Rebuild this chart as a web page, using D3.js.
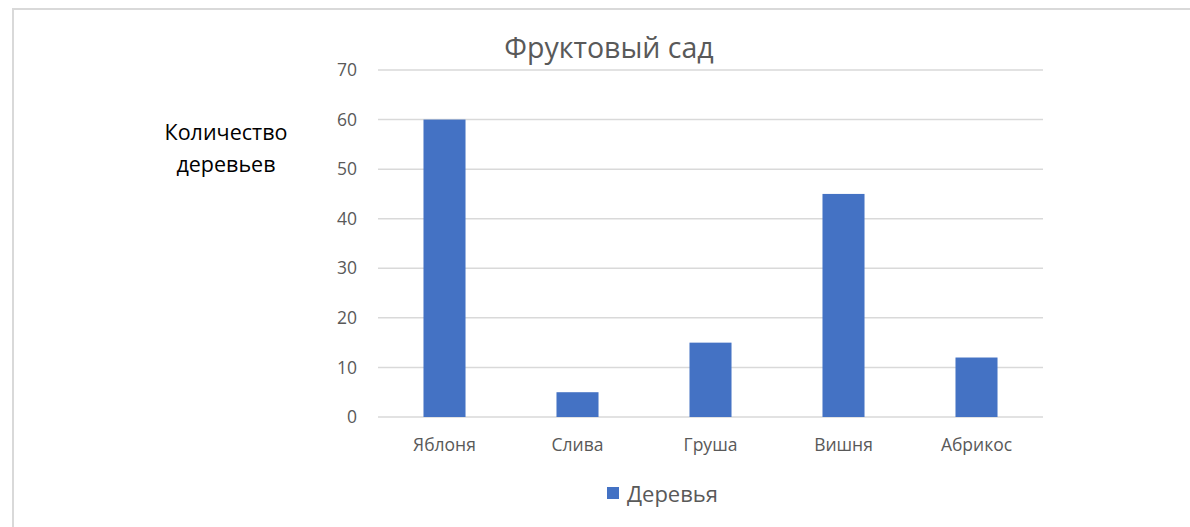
<!DOCTYPE html>
<html>
<head>
<meta charset="utf-8">
<script src="https://cdn.jsdelivr.net/npm/d3@7"></script>
<style>
  html, body { margin: 0; padding: 0; background: #fff; }
  svg { display: block; font-family: "Open Sans", "Noto Sans", sans-serif; }
</style>
</head>
<body>
<svg id="chart" width="1190" height="527"></svg>
<script>
var categories = ['Яблоня', 'Слива', 'Груша', 'Вишня', 'Абрикос'];
var values = [60, 5, 15, 45, 12];
var yTicks = [0, 10, 20, 30, 40, 50, 60, 70];
var seriesName = 'Деревья';
var chartTitle = 'Фруктовый сад';
var yTitle = ['Количество', 'деревьев'];

var svg = d3.select('#chart');
var barColor = '#4472c4';

// frame
svg.append('path')
  .attr('d', 'M13,527V9H1190')
  .attr('fill', 'none')
  .attr('stroke', '#d9d9d9')
  .attr('stroke-width', 2);

var x = d3.scaleBand()
  .domain(categories)
  .range([378, 1043])
  .paddingInner(0.684)
  .paddingOuter(0.342);

var y = d3.scaleLinear()
  .domain([0, 70])
  .range([417, 70]);

// gridlines
svg.append('g')
  .selectAll('line')
  .data(yTicks)
  .join('line')
  .attr('x1', 378)
  .attr('x2', 1043)
  .attr('y1', function(d) { return y(d); })
  .attr('y2', function(d) { return y(d); })
  .attr('stroke', '#d9d9d9')
  .attr('stroke-width', 1.5);

// y axis labels
var yAxis = svg.append('g')
  .attr('transform', 'translate(378,0)')
  .call(d3.axisLeft(y).tickValues(yTicks).tickSize(0).tickPadding(21));
yAxis.select('.domain').remove();
yAxis.selectAll('text')
  .attr('font-size', 17.5)
  .attr('fill', '#595959')
  .attr('font-family', '"Open Sans", sans-serif');

// x axis labels
var xAxis = svg.append('g')
  .attr('transform', 'translate(0,417)')
  .call(d3.axisBottom(x).tickSize(0).tickPadding(22));
xAxis.select('.domain').remove();
xAxis.selectAll('text')
  .attr('font-size', 17.5)
  .attr('fill', '#595959')
  .attr('font-family', '"Open Sans", sans-serif');

// bars
svg.append('g')
  .selectAll('rect')
  .data(values)
  .join('rect')
  .attr('x', function(d, i) { return x(categories[i]); })
  .attr('y', function(d) { return y(d); })
  .attr('width', x.bandwidth())
  .attr('height', function(d) { return y(0) - y(d); })
  .attr('fill', barColor);

// title
svg.append('text')
  .attr('x', 609)
  .attr('y', 58)
  .attr('text-anchor', 'middle')
  .attr('font-size', 28.5)
  .attr('fill', '#595959')
  .text(chartTitle);

// y axis title
svg.append('g')
  .selectAll('text')
  .data(yTitle)
  .join('text')
  .attr('x', 226)
  .attr('y', function(d, i) { return 140 + i * 32; })
  .attr('text-anchor', 'middle')
  .attr('font-size', 21.5)
  .attr('fill', '#000')
  .text(function(d) { return d; });

// legend
var legend = svg.append('g').attr('transform', 'translate(607,487)');
legend.append('rect')
  .attr('width', 12)
  .attr('height', 12)
  .attr('fill', barColor);
legend.append('text')
  .attr('x', 20)
  .attr('y', 15)
  .attr('font-size', 22)
  .attr('fill', '#595959')
  .text(seriesName);
</script>
</body>
</html>
